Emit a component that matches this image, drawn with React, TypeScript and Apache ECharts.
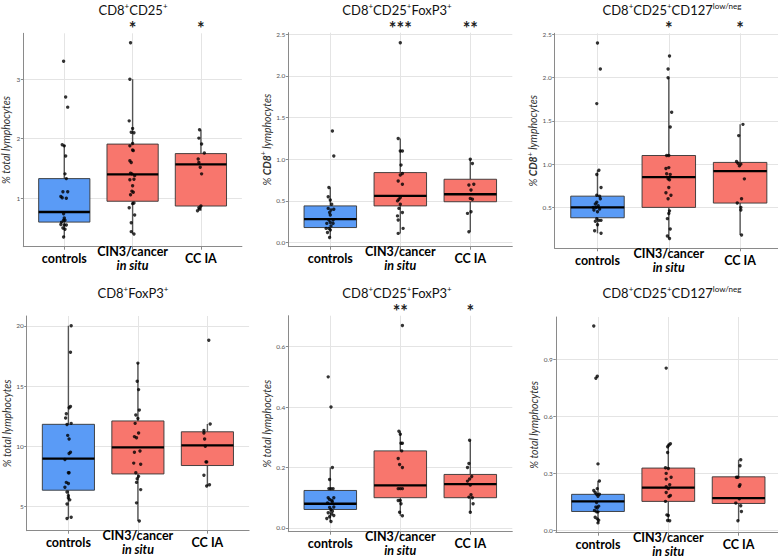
import { useEffect, useRef } from "react";
import * as echarts from "echarts";

// ---------- data ----------
const groupLabels = ["controls", "CIN3/cancer", "CC IA"];
const groupSub = ["", "in situ", ""];

// points: [horizontal jitter (in category units), value]
// Panel 1: CD8+CD25+ (% total lymphocytes)
const p1Controls = [[-0.01,3.30],[0.02,2.70],[0.05,2.53],[-0.03,1.90],[0,1.88],[0.02,1.71],[0.01,1.41],[0.03,1.33],[-0.02,1.11],[0.05,1.11],[-0.05,1.03],[-0.03,1.01],[0.03,1.00],[-0.01,0.74],[0,0.67],[-0.01,0.63],[0.01,0.63],[-0.04,0.60],[-0.05,0.56],[0,0.55],[0.03,0.55],[-0.02,0.50],[0.01,0.48],[-0.01,0.35]];
const p1Cin3 = [[-0.03,3.61],[-0.04,3.00],[-0.05,2.30],[0,2.17],[-0.02,2.11],[0.02,2.10],[0,1.92],[-0.04,1.88],[0,1.81],[0.01,1.80],[-0.04,1.63],[-0.02,1.60],[-0.03,1.42],[-0.01,1.41],[0.03,1.38],[-0.04,1.31],[0.02,1.32],[0,1.21],[-0.01,1.12],[0.01,1.10],[-0.03,1.06],[0.02,0.92],[0,0.91],[-0.05,0.84],[0.03,0.72],[-0.02,0.59],[-0.02,0.44],[0.02,0.40]];
const p1CcIa = [[-0.02,2.15],[-0.03,2.01],[0.01,1.91],[0.05,1.76],[-0.04,1.66],[-0.03,1.60],[-0.01,1.52],[0.01,1.41],[0,0.87],[-0.03,0.84],[-0.05,0.79],[-0.02,0.82]];
// box stats: [min, Q1, median, Q3, max]
const p1Boxes = [[0.35,0.60,0.77,1.33,1.90],[0.40,0.95,1.40,1.91,3.00],[0.79,0.87,1.57,1.75,2.15]];
const p1Stars = ["", "*", "*"];

// Panel 2: CD8+CD25+FoxP3+ (% CD8+ lymphocytes)
const p2Controls = [[0.03,1.34],[0.05,1.04],[-0.02,0.66],[-0.03,0.55],[0,0.51],[0.02,0.46],[-0.03,0.41],[0.05,0.40],[0.01,0.39],[-0.01,0.36],[0,0.33],[0.04,0.27],[-0.02,0.27],[0,0.24],[-0.05,0.23],[0.04,0.23],[0.01,0.20],[-0.02,0.17],[-0.06,0.17],[0,0.15],[-0.04,0.12],[-0.01,0.06]];
const p2Cin3 = [[0,2.40],[-0.03,1.25],[0,1.10],[0.03,1.10],[0.01,0.93],[0.03,0.83],[0,0.81],[-0.03,0.74],[0.03,0.70],[0,0.54],[-0.02,0.52],[-0.04,0.50],[0,0.46],[-0.02,0.41],[0.03,0.36],[-0.04,0.32],[-0.03,0.27],[0.04,0.17],[-0.03,0.11]];
const p2CcIa = [[0,1.00],[0.03,0.95],[-0.02,0.69],[0.05,0.70],[0.01,0.63],[0,0.53],[0.03,0.52],[-0.04,0.35],[0.01,0.37],[-0.02,0.13]];
const p2Boxes = [[0.06,0.18,0.28,0.44,0.66],[0.11,0.44,0.56,0.84,1.25],[0.13,0.49,0.58,0.76,1.00]];
const p2Stars = ["", "***", "**"];

// Panel 3: CD8+CD25+CD127low/neg (% CD8+ lymphocytes)
const p3Controls = [[0,2.40],[0.04,2.10],[-0.01,1.70],[0.02,0.93],[-0.01,0.88],[0.05,0.73],[-0.01,0.64],[0.03,0.63],[0.04,0.60],[-0.01,0.56],[-0.03,0.54],[0.01,0.52],[-0.06,0.50],[-0.02,0.50],[0.03,0.48],[-0.05,0.47],[0,0.45],[-0.01,0.37],[0.02,0.35],[-0.03,0.34],[0.05,0.35],[0,0.30],[-0.04,0.23],[0.05,0.20]];
const p3Cin3 = [[0.01,2.25],[-0.01,2.10],[-0.01,2.00],[0.04,1.60],[0.02,1.43],[-0.03,1.10],[0,1.10],[-0.04,0.95],[0,0.96],[-0.03,0.89],[0.02,0.88],[-0.01,0.83],[0.01,0.82],[0,0.73],[-0.04,0.67],[0.03,0.64],[-0.01,0.60],[0.01,0.46],[0,0.43],[-0.02,0.37],[0.02,0.25],[-0.02,0.17],[0.01,0.14]];
const p3CcIa = [[0.04,1.46],[-0.02,1.33],[-0.05,1.03],[-0.03,1.01],[0.01,1.00],[-0.01,0.98],[0.06,0.83],[0.02,0.60],[-0.04,0.55],[0.01,0.50],[0.01,0.47],[0.02,0.18]];
const p3Boxes = [[0.20,0.38,0.50,0.63,0.93],[0.14,0.50,0.85,1.10,2.00],[0.18,0.55,0.92,1.02,1.46]];
const p3Stars = ["", "*", "*"];

// Panel 4: CD8+FoxP3+ (% total lymphocytes)
const p4Controls = [[0.04,20.0],[0.03,17.8],[0.03,13.3],[0.01,13.2],[-0.03,12.7],[-0.04,12.35],[0.04,11.9],[-0.02,11.8],[-0.01,10.9],[0.01,10.6],[0.03,9.5],[0.01,9.4],[-0.05,8.9],[0.01,7.8],[0,7.8],[-0.03,7.0],[0,6.9],[-0.05,6.6],[-0.02,6.2],[0,5.9],[0,5.7],[0.02,5.55],[-0.02,5.2],[-0.02,4.0],[0.04,4.1]];
const p4Cin3 = [[0,16.9],[-0.01,15.4],[0.01,14.7],[0.02,13.0],[-0.03,12.6],[0,12.3],[-0.04,11.9],[0.01,11.1],[-0.05,10.8],[-0.02,10.7],[0.03,9.6],[-0.05,9.5],[-0.06,8.6],[0.04,8.5],[-0.03,7.8],[0.01,7.5],[-0.01,7.3],[-0.02,7.0],[0.04,6.4],[-0.02,5.3],[0.02,3.8]];
const p4CcIa = [[0.02,18.8],[0.04,11.85],[-0.05,11.3],[-0.05,11.1],[-0.04,10.6],[-0.03,10.0],[-0.02,8.7],[-0.01,8.7],[-0.05,7.6],[0.03,6.8],[-0.01,6.7]];
const p4Boxes = [[4.0,6.35,8.98,11.82,20.0],[3.8,7.7,9.9,12.1,16.9],[6.7,8.4,10.08,11.2,11.85]];
const p4Stars = ["", "", ""];

// Panel 5: CD8+CD25+FoxP3+ (% total lymphocytes)
const p5Controls = [[-0.03,0.50],[0.01,0.40],[0.03,0.20],[-0.01,0.16],[-0.02,0.13],[0.01,0.13],[0.04,0.13],[-0.03,0.10],[0.05,0.10],[-0.01,0.094],[0.02,0.091],[0.03,0.087],[-0.04,0.083],[0.05,0.069],[-0.01,0.068],[0.01,0.061],[0.03,0.055],[-0.03,0.050],[0.02,0.046],[0.05,0.041],[-0.01,0.037],[-0.05,0.031],[0.01,0.021]];
const p5Cin3 = [[0.03,0.67],[-0.02,0.32],[0,0.31],[0.01,0.28],[0.03,0.28],[0.02,0.255],[-0.03,0.23],[-0.01,0.21],[0.03,0.20],[-0.03,0.13],[0,0.13],[0.03,0.13],[-0.03,0.091],[0,0.091],[0.01,0.080],[-0.01,0.052],[0.03,0.040]];
const p5CcIa = [[-0.01,0.29],[-0.02,0.213],[-0.04,0.20],[0.02,0.17],[-0.01,0.162],[-0.04,0.155],[0,0.142],[0.01,0.11],[-0.02,0.102],[0.03,0.10],[0.04,0.08],[0,0.052]];
const p5Boxes = [[0.021,0.061,0.080,0.124,0.20],[0.04,0.10,0.141,0.255,0.32],[0.052,0.10,0.145,0.177,0.29]];
const p5Stars = ["", "**", "*"];

// Panel 6: CD8+CD25+CD127low/neg (% total lymphocytes)
const p6Controls = [[-0.06,1.074],[-0.03,0.80],[-0.01,0.81],[0,0.35],[0.02,0.26],[-0.01,0.22],[-0.06,0.21],[-0.04,0.20],[-0.02,0.19],[0.02,0.19],[0,0.18],[-0.02,0.147],[-0.03,0.123],[0.01,0.128],[-0.01,0.118],[-0.05,0.105],[-0.02,0.098],[0,0.098],[-0.04,0.07],[-0.01,0.061],[0.01,0.054],[0,0.04]];
const p6Cin3 = [[-0.03,0.853],[0.03,0.456],[0.01,0.449],[-0.01,0.44],[-0.01,0.41],[-0.04,0.33],[0,0.326],[-0.03,0.30],[0.04,0.28],[-0.03,0.27],[0.02,0.24],[-0.03,0.23],[0,0.22],[0.03,0.184],[0.01,0.179],[-0.03,0.20],[-0.04,0.153],[-0.02,0.082],[0,0.079],[-0.01,0.053],[0.02,0.051]];
const p6CcIa = [[0.03,0.372],[0.02,0.34],[-0.03,0.28],[-0.01,0.28],[0.02,0.24],[0.01,0.232],[0.01,0.167],[-0.04,0.144],[0.03,0.13],[0.04,0.10],[-0.01,0.051]];
const p6Boxes = [[0.04,0.10,0.153,0.19,0.26],[0.051,0.153,0.225,0.328,0.456],[0.051,0.142,0.17,0.282,0.372]];
const p6Stars = ["", "", ""];

// axis ticks
const p1Ticks = [1, 2, 3];
const p2Ticks = [0, 0.5, 1.0, 1.5, 2.0, 2.5];
const p3Ticks = [0.5, 1.0, 1.5, 2.0, 2.5];
const p4Ticks = [5, 10, 15, 20];
const p5Ticks = [0, 0.2, 0.4, 0.6];
const p6Ticks = [0, 0.3, 0.6, 0.9];

// ---------- layout / style ----------
const FONT = "Lato, 'Open Sans', sans-serif";
const boxFills = ["#5A9BF6", "#F8766D", "#F8766D"];
const SUP = { fontSize: 8, verticalAlign: "top", lineHeight: 17, fontFamily: FONT, fill: "#111", color: "#111" };

const panels = [
  { pts: [p1Controls, p1Cin3, p1CcIa], boxes: p1Boxes, stars: p1Stars, ticks: p1Ticks, dec: 0,
    title: "{m|CD8}{s|+}{m|CD25}{s|+}", yname: "total",
    left: 23.3, top: 33.3, width: 218.6, height: 213.4, ymin: 0.187, ymax: 3.77, tx: 133, ty: 10, gap: 10 },
  { pts: [p2Controls, p2Cin3, p2CcIa], boxes: p2Boxes, stars: p2Stars, ticks: p2Ticks, dec: 1,
    title: "{m|CD8}{s|+}{m|CD25}{s|+}{m|FoxP3}{s|+}", yname: "cd8",
    left: 288.3, top: 32.7, width: 224, height: 214, ymin: -0.05, ymax: 2.52, tx: 397, ty: 10, gap: 11 },
  { pts: [p3Controls, p3Cin3, p3CcIa], boxes: p3Boxes, stars: p3Stars, ticks: p3Ticks, dec: 1,
    title: "{m|CD8}{s|+}{m|CD25}{s|+}{m|CD127}{s|low/neg}", yname: "cd8",
    left: 554.7, top: 33.3, width: 228.2, height: 215, ymin: 0.027, ymax: 2.513, tx: 672, ty: 10, gap: 12 },
  { pts: [p4Controls, p4Cin3, p4CcIa], boxes: p4Boxes, stars: p4Stars, ticks: p4Ticks, dec: 0,
    title: "{m|CD8}{s|+}{m|FoxP3}{s|+}", yname: "total",
    left: 26.7, top: 316, width: 222.4, height: 214.7, ymin: 2.99, ymax: 20.81, tx: 133, ty: 293, gap: 12 },
  { pts: [p5Controls, p5Cin3, p5CcIa], boxes: p5Boxes, stars: p5Stars, ticks: p5Ticks, dec: 1,
    title: "{m|CD8}{s|+}{m|CD25}{s|+}{m|FoxP3}{s|+}", yname: "total",
    left: 288.3, top: 315.7, width: 224, height: 216, ymin: -0.0125, ymax: 0.7025, tx: 397, ty: 293, gap: 11 },
  { pts: [p6Controls, p6Cin3, p6CcIa], boxes: p6Boxes, stars: p6Stars, ticks: p6Ticks, dec: 1,
    title: "{m|CD8}{s|+}{m|CD25}{s|+}{m|CD127}{s|low/neg}", yname: "total",
    left: 555.8, top: 317, width: 225, height: 215.7, ymin: -0.0115, ymax: 1.1215, tx: 672, ty: 293, gap: 12 },
];

const yNameText: Record<string, string> = {
  total: "{i|% total lymphocytes}",
  cd8: "{i|% }{bi|CD8}{s|+}{i| lymphocytes}",
};

function buildOption() {
  const grid: any[] = [];
  const xAxis: any[] = [];
  const yAxis: any[] = [];
  const series: any[] = [];
  const graphic: any[] = [];

  panels.forEach((p, i) => {
    grid.push({ left: p.left, top: p.top, width: p.width, height: p.height, containLabel: false, outerBoundsMode: "none" });
    xAxis.push({
      type: "value", gridIndex: i, min: 0.4, max: 3.6,
      axisLine: { show: true, onZero: false, lineStyle: { color: "#8a8a8a", width: 1 } },
      axisTick: { show: true, customValues: [1, 2, 3], length: 3, lineStyle: { color: "#8a8a8a" } },
      axisLabel: {
        customValues: [1, 2, 3], margin: 12, verticalAlign: "middle", lineHeight: 14,
        formatter: (v: number) => {
          const k = Math.round(v) - 1;
          return groupSub[k] ? `{b|${groupLabels[k]}}\n{bi|${groupSub[k]}}` : `{b|${groupLabels[k]}}`;
        },
        rich: {
          b: { fontFamily: FONT, fontWeight: "bold", fontSize: 12.5, color: "#000", lineHeight: 14 },
          bi: { fontFamily: FONT, fontWeight: "bold", fontStyle: "italic", fontSize: 12.5, color: "#000", lineHeight: 14 },
        },
      },
      splitLine: { show: true, lineStyle: { color: "#e4e4e4", width: 1 } },
    });
    yAxis.push({
      type: "value", gridIndex: i, min: p.ymin, max: p.ymax,
      axisLine: { show: true, onZero: false, lineStyle: { color: "#8a8a8a", width: 1 } },
      axisTick: { show: true, customValues: p.ticks, length: 2.5, lineStyle: { color: "#8a8a8a" } },
      axisLabel: {
        customValues: p.ticks, margin: 3, fontSize: 6.5, color: "#555", fontFamily: FONT,
        formatter: (v: number) => v.toFixed(p.dec),
      },
      splitLine: { show: true, lineStyle: { color: "#e4e4e4", width: 1 } },
      name: yNameText[p.yname], nameLocation: "middle", nameGap: p.gap,
      nameTextStyle: {
        rich: {
          i: { fontFamily: FONT, fontStyle: "italic", fontSize: 10.5, color: "#333", lineHeight: 14, verticalAlign: "middle" },
          bi: { fontFamily: FONT, fontStyle: "italic", fontWeight: "bold", fontSize: 10.5, color: "#333", lineHeight: 14, verticalAlign: "middle" },
          s: { fontFamily: FONT, fontSize: 7, color: "#333", lineHeight: 14, verticalAlign: "top" },
        },
      },
    });

    // boxes
    series.push({
      type: "custom", xAxisIndex: i, yAxisIndex: i, z: 2,
      data: p.boxes.map((b, k) => [k + 1, ...b, k]),
      renderItem: (params: any, api: any) => {
        const x = api.value(0);
        const pMin = api.coord([x, api.value(1)]);
        const pQ1 = api.coord([x, api.value(2)]);
        const pMed = api.coord([x, api.value(3)]);
        const pQ3 = api.coord([x, api.value(4)]);
        const pMax = api.coord([x, api.value(5)]);
        const half = api.size([0.75, 0])[0] / 2;
        const fill = boxFills[api.value(6)];
        return {
          type: "group",
          children: [
            { type: "line", shape: { x1: pMin[0], y1: pMin[1], x2: pQ1[0], y2: pQ1[1] }, style: { stroke: "#555", lineWidth: 1.4 } },
            { type: "line", shape: { x1: pQ3[0], y1: pQ3[1], x2: pMax[0], y2: pMax[1] }, style: { stroke: "#555", lineWidth: 1.4 } },
            { type: "rect", shape: { x: pQ1[0] - half, y: pQ3[1], width: half * 2, height: pQ1[1] - pQ3[1] }, style: { fill, stroke: "#333", lineWidth: 0.9 } },
            { type: "line", shape: { x1: pMed[0] - half, y1: pMed[1], x2: pMed[0] + half, y2: pMed[1] }, style: { stroke: "#000", lineWidth: 2.3 } },
          ],
        };
      },
    });

    // points
    const pts: number[][] = [];
    p.pts.forEach((grp, k) => grp.forEach(([dx, v]) => pts.push([k + 1 + dx, v])));
    series.push({
      type: "scatter", xAxisIndex: i, yAxisIndex: i, z: 3,
      symbolSize: 3.4, itemStyle: { color: "#000" }, data: pts, silent: true,
    });

    // significance stars
    const starData = p.stars.map((s, k) => [k + 1, p.ymax]).filter((_, k) => p.stars[k]);
    const starText = p.stars.filter((s) => s);
    if (starData.length) {
      series.push({
        type: "custom", xAxisIndex: i, yAxisIndex: i, z: 4, clip: false,
        itemStyle: { color: "#222" },
        data: starData,
        renderItem: (params: any, api: any) => {
          const pt = api.coord([api.value(0), api.value(1)]);
          return {
            type: "text", x: pt[0], y: pt[1] + 4,
            style: { text: starText[params.dataIndex], fill: "#222", stroke: "none", font: `bold 18px ${FONT}`, align: "center", verticalAlign: "bottom" },
          };
        },
      });
    }

    // titles
    graphic.push({
      type: "text", x: p.tx, y: p.ty,
      style: {
        text: p.title, align: "center", verticalAlign: "middle",
        rich: {
          m: { fontSize: 13, fontFamily: FONT, fill: "#111", color: "#111", lineHeight: 17, verticalAlign: "middle" },
          s: SUP,
        },
      },
    });
  });

  return { animation: false, backgroundColor: "#fff", grid, xAxis, yAxis, series, graphic };
}

export default function App() {
  const ref = useRef<HTMLDivElement>(null);
  useEffect(() => {
    if (!ref.current) return;
    const chart = echarts.init(ref.current, undefined, { renderer: "svg" });
    chart.setOption(buildOption() as any);
    return () => chart.dispose();
  }, []);
  return <div ref={ref} style={{ position: "absolute", left: 0, top: 0, width: 778, height: 558 }} />;
}
